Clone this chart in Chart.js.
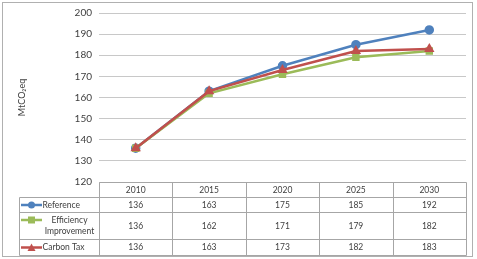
<!DOCTYPE html>
<html>
<head>
<meta charset="utf-8">
<script src="https://cdn.jsdelivr.net/npm/chart.js@4"></script>
<style>
  html, body { margin: 0; padding: 0; background: #fff; }
  canvas { display: block; }
</style>
</head>
<body>
<canvas id="grafico" width="477" height="259"></canvas>
<script>
// dados
const anos = ['2010', '2015', '2020', '2025', '2030'];
const referencia = [136, 163, 175, 185, 192];
const eficiencia = [136, 162, 171, 179, 182];
const taxaCarbono = [136, 163, 173, 182, 183];
const nomesSeries = ['Reference', 'Efficiency Improvement', 'Carbon Tax'];
const eixoY = { min: 120, max: 200, passo: 10 };

const FONTE = 'Lato, "Open Sans", sans-serif';
const corTexto = '#404040';
const corLinhas = '#a6a6a6';

// bordas das linhas da tabela (y) e coluna da legenda
const linhasTabela = [182, 197, 212, 239, 255];
const legendaX = 19;

// plugin: moldura exterior + tabela de dados por baixo do gráfico
const pluginTabela = {
    id: 'tabelaDados',
    beforeDraw(chart) {
        const ctx = chart.ctx;
        ctx.save();
        ctx.fillStyle = '#fff';
        ctx.fillRect(0, 0, chart.width, chart.height);
        ctx.strokeStyle = '#b0b0b0';
        ctx.lineWidth = 1;
        ctx.strokeRect(2.5, 2.5, 470, 254);
        ctx.restore();
    },
    afterDraw(chart) {
        const ctx = chart.ctx;
        const area = chart.chartArea;
        const x = chart.scales.x;
        const esq = Math.round(area.left) + 0.5;
        const dir = Math.round(area.right) + 0.5;
        const n = anos.length;
        const larg = (area.right - area.left) / n;

        ctx.save();
        ctx.strokeStyle = corLinhas;
        ctx.lineWidth = 1;
        ctx.beginPath();
        // horizontais
        ctx.moveTo(esq, linhasTabela[0] + 0.5);
        ctx.lineTo(dir, linhasTabela[0] + 0.5);
        for (let i = 1; i < linhasTabela.length; i++) {
            ctx.moveTo(legendaX + 0.5, linhasTabela[i] + 0.5);
            ctx.lineTo(dir, linhasTabela[i] + 0.5);
        }
        // verticais
        ctx.moveTo(legendaX + 0.5, linhasTabela[1] + 0.5);
        ctx.lineTo(legendaX + 0.5, linhasTabela[4] + 0.5);
        for (let c = 0; c <= n; c++) {
            const cx = Math.round(area.left + c * larg) + 0.5;
            ctx.moveTo(cx, linhasTabela[0] + 0.5);
            ctx.lineTo(cx, linhasTabela[4] + 0.5);
        }
        ctx.stroke();

        // cabeçalho e valores
        ctx.fillStyle = corTexto;
        ctx.font = '8.5px ' + FONTE;
        ctx.textAlign = 'center';
        ctx.textBaseline = 'middle';
        const centros = linhasTabela.slice(0, -1).map((y, i) => (y + linhasTabela[i + 1]) / 2 + 0.5);
        anos.forEach((ano, i) => {
            const px = x.getPixelForValue(i);
            ctx.fillText(ano, px, centros[0]);
            chart.data.datasets.forEach((ds, d) => {
                ctx.fillText(String(ds.data[i]), px, centros[d + 1]);
            });
        });

        // chaves da legenda
        chart.data.datasets.forEach((ds, d) => {
            let yk = centros[d + 1];
            const linhasTexto = d === 1 ? ['Efficiency', 'Improvement'] : [ds.label];
            if (linhasTexto.length > 1) yk = centros[d + 1] - 6;
            ctx.strokeStyle = ds.borderColor;
            ctx.lineWidth = 2.5;
            ctx.beginPath();
            ctx.moveTo(21, yk);
            ctx.lineTo(42, yk);
            ctx.stroke();
            ctx.fillStyle = ds.borderColor;
            desenharMarcador(ctx, ds.pointStyle, 31.5, yk, 3.5);

            ctx.fillStyle = corTexto;
            if (linhasTexto.length > 1) {
                ctx.textAlign = 'center';
                ctx.fillText(linhasTexto[0], 69.5, centros[d + 1] - 6);
                ctx.fillText(linhasTexto[1], 69.5, centros[d + 1] + 5);
            } else {
                ctx.textAlign = 'left';
                ctx.fillText(linhasTexto[0], 42.5, yk);
            }
        });
        ctx.restore();
    }
};

function desenharMarcador(ctx, estilo, x, y, r) {
    ctx.beginPath();
    if (estilo === 'rect') {
        ctx.rect(x - r, y - r, 2 * r, 2 * r);
    } else if (estilo === 'triangle') {
        ctx.moveTo(x, y - r - 0.5);
        ctx.lineTo(x + r + 0.5, y + r);
        ctx.lineTo(x - r - 0.5, y + r);
        ctx.closePath();
    } else {
        ctx.arc(x, y, r, 0, Math.PI * 2);
    }
    ctx.fill();
}

function serie(label, dados, cor, estilo, ordem) {
    return {
        label: label,
        data: dados,
        borderColor: cor,
        backgroundColor: cor,
        pointBackgroundColor: cor,
        pointBorderColor: cor,
        pointStyle: estilo,
        pointRadius: 3.5,
        borderWidth: 2.5,
        tension: 0,
        order: ordem
    };
}

new Chart(document.getElementById('grafico'), {
    type: 'line',
    data: {
        labels: anos,
        datasets: [
            serie(nomesSeries[0], referencia, '#4f81bd', 'circle', 2),
            serie(nomesSeries[1], eficiencia, '#9bbb59', 'rect', 1),
            serie(nomesSeries[2], taxaCarbono, '#c0504d', 'triangle', 0)
        ]
    },
    options: {
        responsive: false,
        animation: false,
        layout: { padding: { left: 17, right: 11, top: 12, bottom: 77 } },
        plugins: {
            legend: { display: false },
            tooltip: { enabled: false }
        },
        scales: {
            x: {
                display: false,
                offset: true
            },
            y: {
                min: eixoY.min,
                max: eixoY.max,
                ticks: {
                    stepSize: eixoY.passo,
                    padding: 7,
                    color: corTexto,
                    font: { family: FONTE, size: 10 }
                },
                grid: { color: '#c8c8c8', drawTicks: false },
                border: { display: false },
                title: {
                    display: true,
                    text: 'MtCO₂eq',
                    color: corTexto,
                    font: { family: FONTE, size: 9 },
                    padding: { top: 0, bottom: 0 }
                },
                afterFit(escala) { escala.width = 82; }
            }
        }
    },
    plugins: [pluginTabela]
});
</script>
</body>
</html>
